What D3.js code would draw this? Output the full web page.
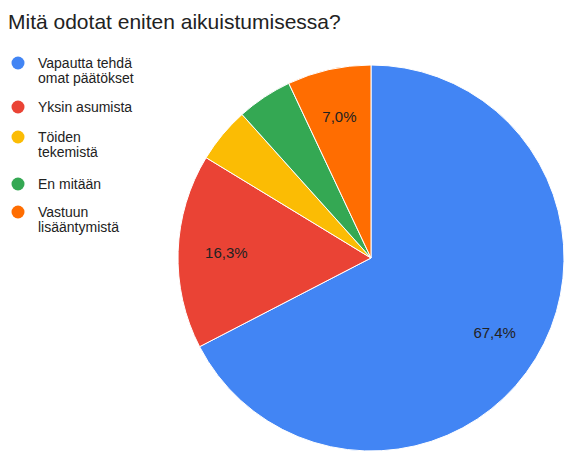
<!DOCTYPE html><html><head><meta charset="utf-8"><script src="https://cdn.jsdelivr.net/npm/d3@7"></script>
<style>body{margin:0;background:#fff}text{font-family:Arial,"Liberation Sans",sans-serif}</style></head><body><svg id="c" width="586" height="467"></svg>
<script>
const title="Mitä odotat eniten aikuistumisessa?";
const categories=[["Vapautta tehdä","omat päätökset"],["Yksin asumista"],["Töiden","tekemistä"],["En mitään"],["Vastuun","lisääntymistä"]];
const values=[67.4,16.3,4.65,4.65,7.0];
const colors=["#4285f4","#ea4335","#fbbc04","#34a853","#ff6d01"];
const svg=d3.select("#c");
svg.append("text").attr("x",8).attr("y",29).attr("font-size",21).attr("fill","#222").text(title);
const cx=371,cy=258,r=193;
const pie=d3.pie().sort(null)(values);
const arc=d3.arc().innerRadius(0).outerRadius(r);
const lab=d3.arc().innerRadius(r*0.75).outerRadius(r*0.75);
const g=svg.append("g").attr("transform",`translate(${cx},${cy})`);
g.selectAll("path").data(pie).join("path").attr("d",arc).attr("fill",(d,i)=>colors[i]).attr("stroke","#fff").attr("stroke-width",1);
g.selectAll("text").data(pie.filter(d=>d.data>=5)).join("text").attr("transform",d=>`translate(${lab.centroid(d)})`)
 .attr("text-anchor","middle").attr("dy","0.35em").attr("font-size",15).attr("fill","#222").text(d=>d.data.toFixed(1).replace(".",",")+"%");
const ys=[63,107,137,184,212];
const lg=svg.append("g");
categories.forEach((c,i)=>{
 lg.append("circle").attr("cx",18).attr("cy",ys[i]).attr("r",6.5).attr("fill",colors[i]);
 c.forEach((t,j)=>lg.append("text").attr("x",38).attr("y",ys[i]+5+j*15).attr("font-size",14).attr("fill","#222").text(t));
});
</script></body></html>
